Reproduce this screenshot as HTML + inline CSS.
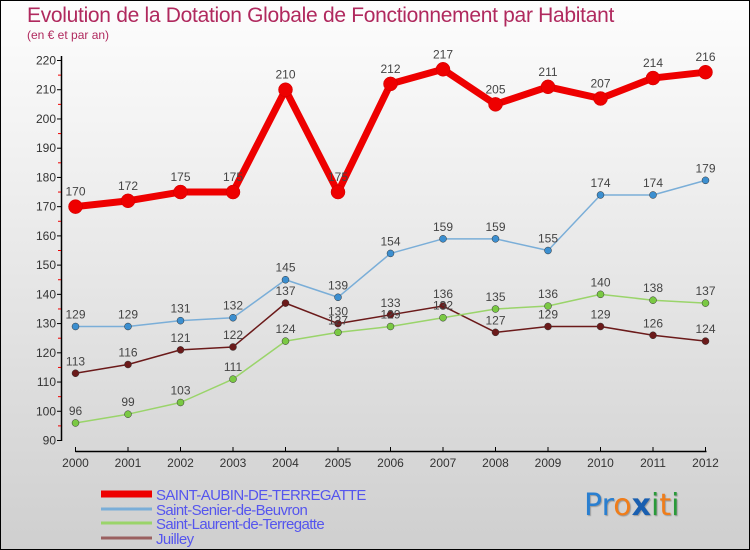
<!DOCTYPE html>
<html><head><meta charset="utf-8"><style>
body{margin:0}
#c{position:relative;width:748px;height:548px;border:1px solid #000;background:linear-gradient(#fdfdfd,#f0f0f0 30%,#cfcfcf);font-family:"Liberation Sans",sans-serif;overflow:hidden}
.t{position:absolute;color:#b0295e}
</style></head><body>
<div id="c">
<div class="t" style="left:26px;top:3px;font-size:21px;letter-spacing:-0.3px">Evolution de la Dotation Globale de Fonctionnement par Habitant</div>
<div class="t" style="left:26px;top:27px;font-size:12px">(en € et par an)</div>
<svg id="s" width="748" height="548" style="position:absolute;left:0;top:0"></svg>
<div style="position:absolute;left:583px;top:487px;font-size:30px;font-family:'DejaVu Sans',sans-serif;text-shadow:1px 1px 1px #999"><span style="color:#2a7fd0">Pr</span><span style="color:#f07d1a">o</span><span style="color:#1a5fb0;font-weight:bold">x</span><span style="color:#2a9a3a">i</span><span style="color:#f07d1a">t</span><span style="color:#2a9a3a">i</span></div>
</div>
<script>
const years=[2000,2001,2002,2003,2004,2005,2006,2007,2008,2009,2010,2011,2012];
const sAubin=[170,172,175,175,210,175,212,217,205,211,207,214,216];
const sSenier=[129,129,131,132,145,139,154,159,159,155,174,174,179];
const sLaurent=[96,99,103,111,124,127,129,132,135,136,140,138,137];
const sJuilley=[113,116,121,122,137,130,133,136,127,129,129,126,124];
const yTicks=[90,100,110,120,130,140,150,160,170,180,190,200,210,220];
const names=["SAINT-AUBIN-DE-TERREGATTE","Saint-Senier-de-Beuvron","Saint-Laurent-de-Terregatte","Juilley"];
const svg=document.getElementById('s');const NS="http://www.w3.org/2000/svg";
const X=i=>74.5+i*52.5, Y=v=>439.5-(v-90)*29.23/10;
function el(t,a,p){const e=document.createElementNS(NS,t);for(const k in a)e.setAttribute(k,a[k]);(p||svg).appendChild(e);return e;}
let ax=el('line',{x1:60.5,y1:55,x2:60.5,y2:440,stroke:'#000','stroke-width':1.5});


let xa=el('line',{x1:74.5,y1:450.5,x2:705.5,y2:450.5,stroke:'#000','stroke-width':1.5});


yTicks.forEach(v=>{const y=Y(v);el('line',{x1:56,y1:y,x2:61,y2:y,stroke:'#000'});
 if(v<220)el('line',{x1:57,y1:Y(v+5),x2:60,y2:Y(v+5),stroke:'#e00'});
 const t=el('text',{x:55,y:y+4,'text-anchor':'end','font-size':12,fill:'#333'});t.textContent=v;
 
 });
years.forEach((yr,i)=>{const x=X(i);el('line',{x1:x,y1:446,x2:x,y2:451,stroke:'#000'});
 const t=el('text',{x:x,y:466,'text-anchor':'middle','font-size':12,fill:'#333'});t.textContent=yr;
 
 });
const series=[[sJuilley,'#6b1a1a',1.5,3.5,'#6b1a1a'],[sLaurent,'#9ad46a',1.5,3.5,'#7ac943'],[sSenier,'#7aaed8',1.5,3.5,'#3c8fd0'],[sAubin,'#ee0000',7,7,'#ee0000']];
series.forEach(([d,c,w,r,dc],si)=>{
 const p=el('polyline',{points:d.map((v,i)=>X(i)+','+Y(v)).join(' '),fill:'none',stroke:c,'stroke-width':w,'stroke-linejoin':'round'});
 
 
 d.forEach((v,i)=>{const m=el('circle',{cx:X(i),cy:Y(v),r:r,fill:dc,stroke:si==3?'#c00':'#333','stroke-width':0.5});
  
  
  const t=el('text',{x:X(i),y:Y(v)-(si==3?11:8),'text-anchor':'middle','font-size':12,fill:'#444'});t.textContent=v;
  
  });
});
const lc=['#ee0000','#7aaed8','#9ad46a','#9a6060'],lw=[7,3,3,3],ly=[493,508,522,537];
names.forEach((n,i)=>{const l=el('line',{x1:100,y1:ly[i],x2:151,y2:ly[i],stroke:lc[i],'stroke-width':lw[i]});
 
 
 const t=el('text',{x:155,y:ly[i]+6,'font-size':15,fill:'#5555ee','letter-spacing':-0.6});t.textContent=n;
 
 });
</script>
</body></html>
